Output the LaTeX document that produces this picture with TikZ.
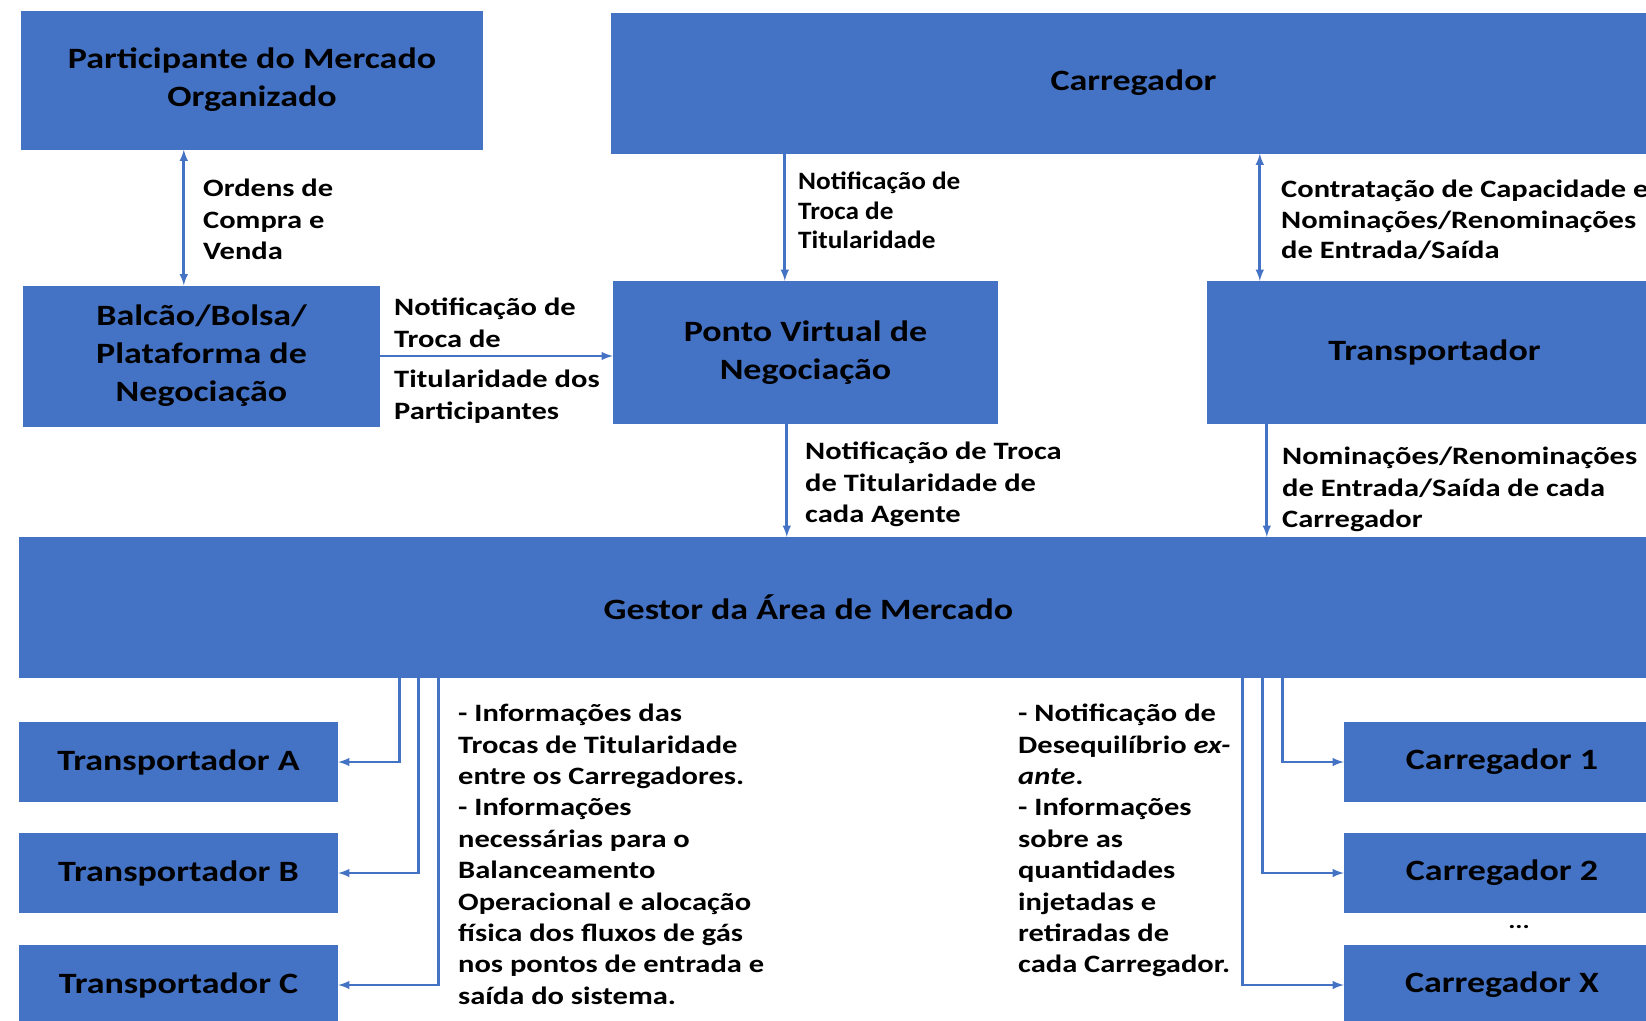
\documentclass[tikz,border=0pt]{standalone}
\usepackage{fontspec}
\setmainfont{Carlito}[FakeStretch=1.22]
\newfontfamily\condfont{Carlito}[FakeStretch=1.09]
\usetikzlibrary{arrows,positioning}
\definecolor{officeblue}{HTML}{4472C4}
\tikzstyle{box}=[fill=officeblue, inner sep=0, align=center,
                font=\fontsize{29.5}{38}\selectfont\bfseries]
\tikzstyle{lbl}=[inner sep=0, anchor=north west, align=left,
                font=\fontsize{25}{31.4}\selectfont\bfseries]
\tikzstyle{link}=[draw=officeblue, line width=2.8pt, ->, >=latex]

\begin{document}
\begin{tikzpicture}[x=1pt,y=-1pt]
\useasboundingbox (0,0) rectangle (1646,1020);

% top row
\node[box, minimum width=462, minimum height=139] (part) at (252,80) {Participante do Mercado\\Organizado};
\node[box, minimum width=1045, minimum height=141] (carr) at (1133.5,83) {Carregador};

% middle row
\node[box, minimum width=357, minimum height=141] (balcao) at (201.5,356) {Balcão/Bolsa/\\Plataforma de\\Negociação};
\node[box, minimum width=385, minimum height=143] (ponto) at (805.5,352.5) {Ponto Virtual de\\Negociação};
\node[box, minimum width=455, minimum height=143] (transp) at (1434.5,352.5) {Transportador};

\node[box, minimum width=1627, minimum height=141] (gestor) at (832.5,607.5) {\hspace*{-48pt}Gestor da Área de Mercado};

% bottom boxes
\foreach \n/\y in {A/762,B/873,C/985}
  \node[box, minimum width=319, minimum height=80] (t\n) at (178.5,\y) {Transportador \n};
\foreach \n/\y in {1/762,2/873,X/985}
  \node[box, minimum width=316, minimum height=80] (c\n) at (1502,\y) {Carregador \n};
\node[inner sep=0, font=\fontsize{22}{22}\selectfont\bfseries] (dots) at (1519,927) {...};

% arrows
\coordinate (k0) at ([xshift=163]part.south west);
\draw[link, <->] (k0) -- (k0 |- balcao.north);
\draw[link] (balcao.east) -- (balcao.east -| ponto.west);
\coordinate (k1) at ([xshift=172]ponto.north west);
\draw[link] (k1 |- carr.south) -- (k1);
\coordinate (k2) at ([xshift=53]transp.north west);
\draw[link, <->] (k2 |- carr.south) -- (k2);
\coordinate (k3) at ([xshift=174]ponto.south west);
\draw[link] (k3) -- (k3 |- gestor.north);
\coordinate (k4) at ([xshift=60]transp.south west);
\draw[link] (k4) -- (k4 |- gestor.north);

\foreach \n/\dx in {A/381,B/400,C/420}
  \draw[link] ([xshift=\dx]gestor.south west) |- (t\n.east);
\foreach \n/\dx in {1/1264,2/1244,X/1224}
  \draw[link] ([xshift=\dx]gestor.south west) |- (c\n.west);

% labels
\node[lbl] (ordens) at (203,179) {Ordens de\\Compra e\\Venda};
\node[lbl] (notifa) at (394,298) {Notificação de\\Troca de};
\node[lbl] (notifb) at (394,370) {Titularidade dos\\Participantes};
\node[lbl, font=\fontsize{25}{29.4}\condfont\bfseries] (notifc) at (798,172) {Notificação de\\Troca de\\Titularidade};
\node[lbl, font=\fontsize{25}{30.5}\selectfont\bfseries] (contrat) at (1281,180) {Contratação de Capacidade e\\Nominações/Renominações\\de Entrada/Saída};
\node[lbl] (notifd) at (805,442) {Notificação de Troca\\de Titularidade de\\cada Agente};
\node[lbl] (nomin) at (1282,447) {Nominações/Renominações\\de Entrada/Saída de cada\\Carregador};

\node[lbl] (infoT) at (458,704) {- Informações das\\Trocas de Titularidade\\entre os Carregadores.\\- Informações\\necessárias para o\\Balanceamento\\Operacional e alocação\\física dos fluxos de gás\\nos pontos de entrada e\\saída do sistema.};
\node[lbl] (infoC) at (1018,704) {- Notificação de\\Desequilíbrio \textit{ex-}\\\textit{ante}.\\- Informações\\sobre as\\quantidades\\injetadas e\\retiradas de\\cada Carregador.};
\end{tikzpicture}
\end{document}
